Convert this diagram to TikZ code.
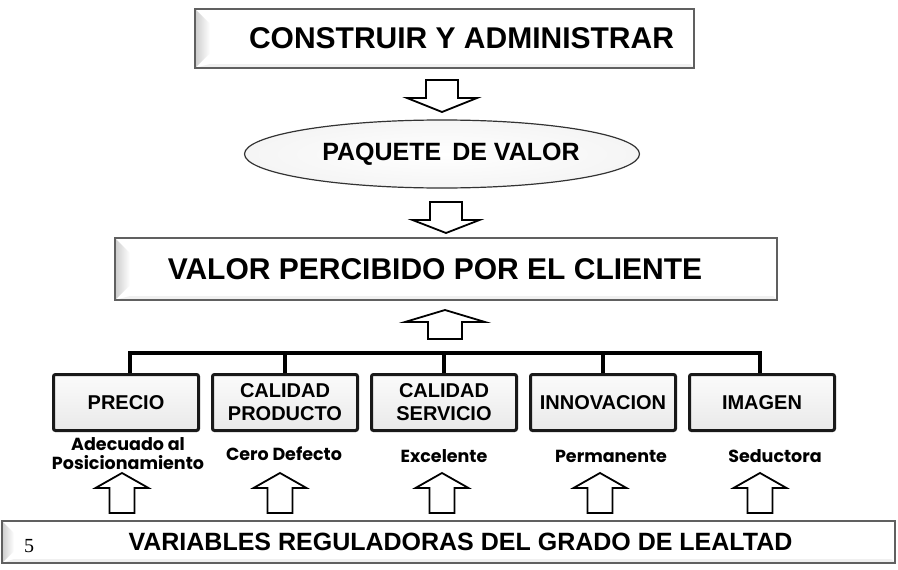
\documentclass[tikz,border=0pt]{standalone}
\usepackage{fontspec}
\setmainfont{Liberation Sans}
\newfontfamily\labfont{Poppins}
\newfontfamily\numfont{Liberation Serif}
\usetikzlibrary{positioning,shapes.geometric}

\tikzset{
  bigbox/.style={draw=gray!75!black, line width=1.2pt, fill=white, inner sep=0pt, outer sep=0pt},
  catbox/.style={draw=black!90, line width=3pt, rounded corners=2pt, top color=gray!3, bottom color=gray!17,
    minimum width=145pt, minimum height=56pt, align=center, inner sep=0pt,
    font=\fontsize{20}{23}\selectfont\bfseries},
  lab/.style={font=\labfont\fontsize{17.5}{19}\selectfont\bfseries, align=center, inner sep=0pt},
  blockarrow/.style={draw=black, line width=1.8pt, fill=white, line join=miter},
  bus/.style={line width=3.5pt}
}

% x, tip y, head base y, head half width, shaft half width, shaft end y
\newcommand{\fatarrow}[6]{%
  \draw[blockarrow] (#1,#2) -- ({#1+#4},#3) -- ({#1+#5},#3) -- ({#1+#5},#6)
    -- ({#1-#5},#6) -- ({#1-#5},#3) -- ({#1-#4},#3) -- cycle;}

% left bevel of a box
\newcommand{\bevel}[2]{%
  \shade[left color=gray!40, right color=white] (#1.north west) -- ([xshift=#2pt,yshift=-#2pt]#1.north west)
    -- ([xshift=#2pt,yshift=#2pt]#1.south west) -- (#1.south west) -- cycle;
  \fill[gray!12] ([xshift=#2pt,yshift=4pt]#1.south west) -- ([xshift=-4pt,yshift=4pt]#1.south east)
    -- (#1.south east) -- (#1.south west) -- cycle;
  \draw[draw=gray!75!black, line width=1.2pt] (#1.north west) rectangle (#1.south east);}

\begin{document}
\begin{tikzpicture}[x=1pt,y=-1pt]
	\fill[white] (0,0) rectangle (898,570);
	\useasboundingbox (0,0) rectangle (898,570);

	% upper part
	\node[bigbox, minimum width=499pt, minimum height=59pt] (top) at (444.5,38.5) {};
	\bevel{top}{15}
	\node[font=\fontsize{30}{32}\selectfont\bfseries] (toptext) at (top) {\hspace*{34pt}CONSTRUIR Y ADMINISTRAR};

	\fatarrow{442}{112}{98}{35}{16}{80}

	\node[ellipse, draw=black!80, line width=1.2pt, inner color=white, outer color=gray!8,
		minimum width=395pt, minimum height=68pt, inner sep=0pt, font=\fontsize{25}{27}\selectfont\bfseries]
		(paquete) at (442,154) {\hspace*{18pt}PAQUETE\hspace{4pt} DE VALOR};

	\fatarrow{446}{233}{220}{33.5}{16}{202}

	\node[bigbox, minimum width=662pt, minimum height=62pt] (valor) at (446,269) {};
	\bevel{valor}{15}
	\node[font=\fontsize{30}{32}\selectfont\bfseries] (valortext) at (valor) {VALOR PERCIBIDO POR EL CLIENTE\hspace*{22pt}};

	\fatarrow{445}{310}{322}{40}{17}{339}

	% variables
	\node[catbox] (precio) at (126,402.5) {PRECIO};
	\node[catbox, right=11pt of precio] (producto) {CALIDAD\\PRODUCTO};
	\node[catbox, right=11pt of producto] (servicio) {CALIDAD\\SERVICIO};
	\node[catbox, right=11pt of servicio] (innov) {INNOVACION};
	\node[catbox, right=11pt of innov] (imagen) {IMAGEN};

	\coordinate (busl) at (130,353);
	\coordinate (busr) at (760,353);
	\draw[bus] (precio.north -| busl) -- (busl) -- (busr) -- (imagen.north -| busr);
	\foreach \n in {producto,servicio,innov}
		\draw[bus] (\n.north) -- (\n.north |- busl);

	\node[lab] (lprecio) at (128,454) {Adecuado al\\Posicionamiento};
	\node[lab] (lproducto) at (284,454) {Cero Defecto};
	\node[lab] (lservicio) at (444,456) {Excelente};
	\node[lab] (linnov) at (611,456) {Permanente};
	\node[lab] (limagen) at (775,456) {Seductora};

	\foreach \x in {122,280,442,600,760}{
		\fatarrow{\x}{473}{488}{26.5}{12.5}{513}
	}

	% lower part
	\node[bigbox, minimum width=893pt, minimum height=42pt] (lealtad) at (448.5,542) {};
	\bevel{lealtad}{12}
	\node[font=\fontsize{25}{27}\selectfont\bfseries] (lealtadtext) at (lealtad)
		{\hspace*{24pt}VARIABLES REGULADORAS DEL GRADO DE LEALTAD};
	\node[font=\numfont\fontsize{20}{20}\selectfont] (num) at (29,546) {5};
\end{tikzpicture}
\end{document}
